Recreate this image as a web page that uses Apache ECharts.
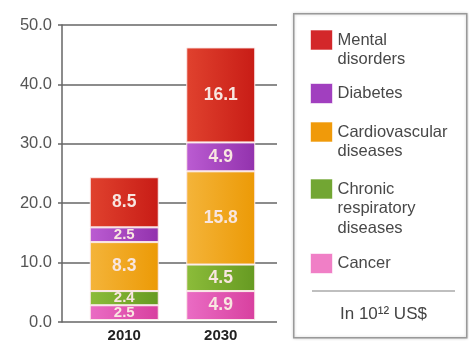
<!DOCTYPE html>
<html>
<head>
<meta charset="utf-8">
<script src="https://cdn.jsdelivr.net/npm/echarts@6/dist/echarts.min.js"></script>
<style>
html,body{margin:0;padding:0;background:#fff;}
#c{width:469px;height:343px;}
</style>
</head>
<body>
<div id="c"></div>
<script>
const categories = ['2010', '2030'];
const cancer = [2.5, 4.9];
const chronic = [2.4, 4.5];
const cardio = [8.3, 15.8];
const diabetes = [2.5, 4.9];
const mental = [8.5, 16.1];
const yMin = 0, yMax = 50, yStep = 10;

const FONT = '"Liberation Sans", Arial, sans-serif';

function grad(a, b) {
  return {type: 'linear', x: 0, y: 0, x2: 1, y2: 0,
    colorStops: [{offset: 0, color: a}, {offset: 1, color: b}]};
}

const seriesDefs = [
  {name: 'Cancer', data: cancer, color: grad('#ea6cc4', '#d8409f'), legendColor: '#f07fc6', lines: 1},
  {name: 'Chronic\nrespiratory\ndiseases', data: chronic, color: grad('#8cbc3a', '#669a22'), legendColor: '#72a633', lines: 3},
  {name: 'Cardiovascular\ndiseases', data: cardio, color: grad('#f4b43a', '#ec9a06'), legendColor: '#f09a0a', lines: 2},
  {name: 'Diabetes', data: diabetes, color: grad('#bb5cd2', '#9232ad'), legendColor: '#a13fbf', lines: 1},
  {name: 'Mental\ndisorders', data: mental, color: grad('#e0422e', '#c81c16'), legendColor: '#d3272a', lines: 2}
];

const iconTops = {'Mental\ndisorders': 30, 'Diabetes': 83, 'Cardiovascular\ndiseases': 122, 'Chronic\nrespiratory\ndiseases': 179, 'Cancer': 253};
const LH = 19.5;

const legends = seriesDefs.map(s => {
  const k = s.lines - 1;
  const boxTop = Math.min(0, 10 - (2 * k + 1) * LH / 2);
  return {
    data: [{name: s.name, itemStyle: {color: s.legendColor, borderColor: 'rgba(255,255,255,0.6)', borderWidth: 1}}],
    orient: 'vertical',
    left: 310,
    top: iconTops[s.name] + boxTop,
    padding: 0,
    itemWidth: 22,
    itemHeight: 20,
    itemGap: 0,
    selectedMode: false,
    icon: 'rect',
    formatter: name => '\n'.repeat(k) + name,
    textStyle: {fontFamily: FONT, fontSize: 16.5, color: '#484848', lineHeight: LH}
  };
});

const series = seriesDefs.map(s => ({
  name: s.name,
  type: 'bar',
  stack: 'total',
  xAxisIndex: 1,
  yAxisIndex: 1,
  barWidth: 69,
  itemStyle: {color: s.color, borderColor: '#fbe9e9', borderWidth: 1},
  label: {show: true, position: 'inside', fontFamily: FONT, fontWeight: 'bold', color: '#f8e6e0'},
  data: s.data.map(v => ({value: v, label: {fontSize: v < 3 ? 15 : 17.5}}))
}));

const chart = echarts.init(document.getElementById('c'), null, {renderer: 'canvas'});
chart.setOption({
  animation: false,
  backgroundColor: '#fff',
  grid: [
    {left: 62, right: 192, top: 25, bottom: 21},
    {left: 76, right: 200, top: 25, bottom: 21}
  ],
  xAxis: [
    {gridIndex: 0, type: 'category', data: categories, show: false},
    {gridIndex: 1, type: 'category', data: categories,
      axisLine: {show: false}, axisTick: {show: false},
      axisLabel: {fontFamily: FONT, fontSize: 15, fontWeight: 'bold', color: '#222', margin: 8}}
  ],
  yAxis: [
    {gridIndex: 0, type: 'value', min: yMin, max: yMax, interval: yStep,
      axisLine: {show: true, lineStyle: {color: '#666', width: 1.5}},
      axisTick: {show: true, length: 4, lineStyle: {color: '#666', width: 1.5}},
      axisLabel: {fontFamily: FONT, fontSize: 16.5, color: '#555', margin: 10,
        formatter: v => v.toFixed(1)},
      splitLine: {show: true, lineStyle: {color: '#666', width: 1.5}}},
    {gridIndex: 1, type: 'value', min: yMin, max: yMax, interval: yStep, show: false,
      splitLine: {show: false}}
  ],
  legend: legends,
  graphic: [
    {type: 'rect', left: 293, top: 13, z: -1,
      shape: {width: 173, height: 324},
      style: {fill: '#fff', stroke: '#999', lineWidth: 1.5, shadowBlur: 3, shadowColor: 'rgba(0,0,0,0.2)'}},
    {type: 'line', shape: {x1: 312, y1: 291, x2: 455, y2: 291},
      style: {stroke: '#aaa', lineWidth: 1.5}},
    {type: 'text', left: 340, top: 306,
      style: {text: 'In 10¹² US$', fontFamily: FONT, fontSize: 17, fill: '#444'}}
  ],
  series: series
});
</script>
</body>
</html>
